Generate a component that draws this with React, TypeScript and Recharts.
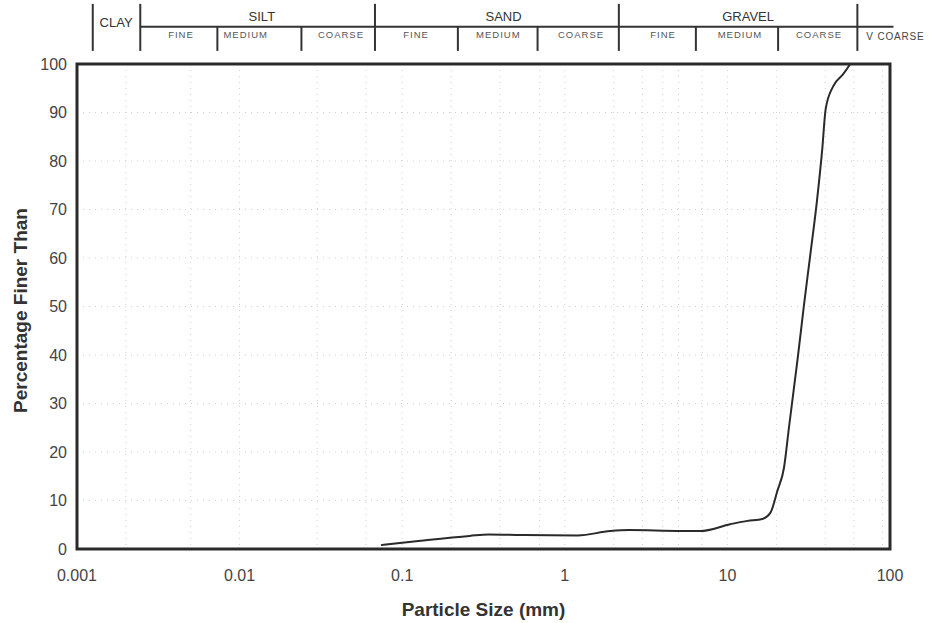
import {
  LineChart,
  Line,
  XAxis,
  YAxis,
  CartesianGrid,
  ReferenceArea,
  ReferenceLine,
  ReferenceDot,
} from 'recharts';

// grading curve: particle size (mm) vs percentage finer
const sizes = [
  0.074, 0.13, 0.26, 0.34, 0.54, 1.2, 1.9, 2.5, 5.2, 6.8, 10.4, 13.3, 16.4,
  18.4, 20.3, 22.3, 23.9, 27.1, 29.5, 32.3, 35.6, 38.3, 40.2, 44.7, 51.5, 57,
];
const percentFiner = [
  0.8, 1.7, 2.7, 3.0, 2.9, 2.8, 3.7, 3.9, 3.7, 3.7, 5.1, 5.8, 6.2,
  7.5, 12, 16.8, 25, 39.5, 50, 60.5, 72, 82.4, 90.7, 95.4, 97.9, 100,
];

const xTicks = [0.001, 0.01, 0.1, 1, 10, 100];
const xTickLabels = ['0.001', '0.01', '0.1', '1', '10', '100'];
const yTicks = [0, 10, 20, 30, 40, 50, 60, 70, 80, 90, 100];
const gridTicks = [
  0.002, 0.003, 0.004, 0.005, 0.006, 0.007, 0.008, 0.009, 0.01,
  0.02, 0.03, 0.04, 0.05, 0.06, 0.07, 0.08, 0.09, 0.1,
  0.2, 0.3, 0.4, 0.5, 0.6, 0.7, 0.8, 0.9, 1,
  2, 3, 4, 5, 6, 7, 8, 9, 10,
  20, 30, 40, 50, 60, 70, 80, 90,
];

// soil classification header (boundaries in mm, as drawn on the sheet)
const majorEdges = [0.00125, 0.00245, 0.068, 2.15, 63];
const minorEdges = [0.0073, 0.024, 0.22, 0.68, 6.4, 20.5];
const mainNames = ['CLAY', 'SILT', 'SAND', 'GRAVEL'];
const mainAt = [0.00174, 0.0137, 0.42, 13.4];
const subNames = ['FINE', 'MEDIUM', 'COARSE', 'FINE', 'MEDIUM', 'COARSE', 'FINE', 'MEDIUM', 'COARSE'];
const subAt = [0.00436, 0.0109, 0.042, 0.1216, 0.39, 1.258, 4.02, 11.95, 36.6];
const lastName = 'V COARSE';

// header heights, expressed on the percentage axis above the plot
const HEAD_TOP = 112.4;
const HEAD_MID = 107.7;
const HEAD_BOTTOM = 102.7;
const HEAD_LINE_END = 106;

const data = sizes.map((s, i) => ({ size: s, pct: percentFiner[i] }));

const ink = '#2a2a2a';
const font = '"Liberation Sans", Arial, sans-serif';

export default function App() {
  return (
    <div style={{ position: 'absolute', left: 0, top: 0 }}>
      <LineChart
        width={931}
        height={623}
        data={data}
        margin={{ top: 64, right: 41, bottom: 0, left: 0 }}
        style={{ fontFamily: font, background: '#fff' }}
      >
        <XAxis xAxisId="grid" dataKey="size" type="number" scale="log" domain={[0.001, 100]} ticks={gridTicks} hide allowDataOverflow />
        <CartesianGrid xAxisId="grid" stroke="#cfcfcf" strokeDasharray="1 5" />
        <XAxis
          dataKey="size"
          type="number"
          scale="log"
          domain={[0.001, 100]}
          ticks={xTicks}
          tickFormatter={(v) => xTickLabels[xTicks.indexOf(v)] ?? String(v)}
          allowDataOverflow
          axisLine={false}
          tickLine={false}
          tickSize={0}
          tickMargin={21}
          height={74}
          tick={{ fontSize: 16, fill: '#444' }}
          label={{ value: 'Particle Size (mm)', position: 'insideBottom', offset: 7, fontSize: 19, fontWeight: 'bold', fill: '#333' }}
        />
        <YAxis
          type="number"
          domain={[0, 100]}
          ticks={yTicks}
          allowDataOverflow
          axisLine={false}
          tickLine={false}
          tickSize={0}
          tickMargin={10}
          width={77}
          tick={{ fontSize: 16, fill: '#444' }}
          label={{
            value: 'Percentage Finer Than',
            angle: -90,
            position: 'insideLeft',
            offset: 20,
            dy: 4,
            fontSize: 19,
            fontWeight: 'bold',
            fill: '#333',
            style: { textAnchor: 'middle' },
          }}
        />

        <Line
          type="monotone"
          dataKey="pct"
          stroke={ink}
          strokeWidth={2}
          dot={false}
          isAnimationActive={false}
        />

        <ReferenceArea x1={0.001} x2={100} y1={0} y2={100} fill="none" stroke={ink} strokeWidth={3} ifOverflow="visible" />

        {/* header grid */}
        <ReferenceLine
          segment={[{ x: majorEdges[1], y: HEAD_MID }, { x: 105, y: HEAD_MID }]}
          stroke="#333"
          strokeWidth={2}
          ifOverflow="visible"
        />
        {majorEdges.map((e) => (
          <ReferenceLine
            key={`maj-${e}`}
            segment={[{ x: e, y: HEAD_TOP }, { x: e, y: HEAD_BOTTOM }]}
            stroke="#333"
            strokeWidth={2}
            ifOverflow="visible"
          />
        ))}
        {minorEdges.map((e) => (
          <ReferenceLine
            key={`min-${e}`}
            segment={[{ x: e, y: HEAD_MID }, { x: e, y: HEAD_BOTTOM }]}
            stroke="#333"
            strokeWidth={2}
            ifOverflow="visible"
          />
        ))}
        {mainNames.map((n, i) => (
          <ReferenceDot
            key={`main-${i}`}
            x={mainAt[i]}
            y={n === 'CLAY' ? 108.6 : 109.8}
            r={0}
            fill="none"
            stroke="none"
            ifOverflow="visible"
            label={{ value: n, position: 'center', fontSize: 13, fill: '#333' }}
          />
        ))}
        {subNames.map((n, i) => (
          <ReferenceDot
            key={`sub-${i}`}
            x={subAt[i]}
            y={HEAD_LINE_END}
            r={0}
            fill="none"
            stroke="none"
            ifOverflow="visible"
            label={{ value: n, position: 'center', fontSize: 9.5, fill: '#555', letterSpacing: 1 }}
          />
        ))}
        <ReferenceDot
          x={majorEdges[4]}
          y={105.7}
          r={0}
          fill="none"
          stroke="none"
          ifOverflow="visible"
          label={{ value: lastName, position: 'right', offset: 9, fontSize: 10, fill: '#444', letterSpacing: 0.8 }}
        />
      </LineChart>
    </div>
  );
}
